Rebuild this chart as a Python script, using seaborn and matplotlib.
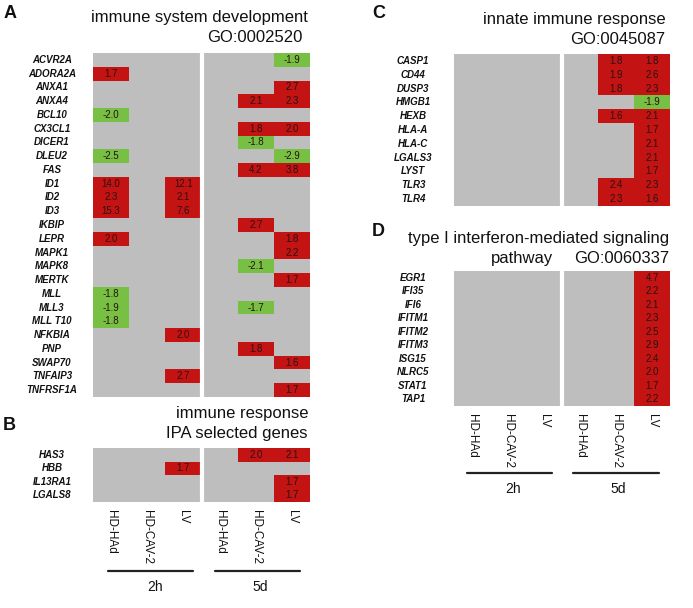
import numpy as np
import pandas as pd
import matplotlib
matplotlib.use("Agg")
import matplotlib.pyplot as plt
from matplotlib.colors import ListedColormap
from matplotlib.lines import Line2D
import seaborn as sns

sns.set_style("white")
plt.rcParams['font.family'] = ['Liberation Sans', 'DejaVu Sans']
plt.rcParams['text.color'] = '#111111'
plt.rcParams['xtick.color'] = '#111111'
plt.rcParams['ytick.color'] = '#111111'

conditions = ["HD-HAd", "HD-CAV-2", "LV", "HD-HAd", "HD-CAV-2", "LV"]
timepoints = ["2h", "5d"]
N = np.nan

genes_a = ["ACVR2A", "ADORA2A", "ANXA1", "ANXA4", "BCL10", "CX3CL1", "DICER1",
           "DLEU2", "FAS", "ID1", "ID2", "ID3", "IKBIP", "LEPR", "MAPK1", "MAPK8",
           "MERTK", "MLL", "MLL3", "MLL T10", "NFKBIA", "PNP", "SWAP70",
           "TNFAIP3", "TNFRSF1A"]
values_a = [
    [N, N, N, N, N, -1.9],
    [1.7, N, N, N, N, N],
    [N, N, N, N, N, 2.7],
    [N, N, N, N, 2.1, 2.3],
    [-2.0, N, N, N, N, N],
    [N, N, N, N, 1.8, 2.0],
    [N, N, N, N, -1.8, N],
    [-2.5, N, N, N, N, -2.9],
    [N, N, N, N, 4.2, 3.8],
    [14.0, N, 12.1, N, N, N],
    [2.3, N, 2.1, N, N, N],
    [15.3, N, 7.6, N, N, N],
    [N, N, N, N, 2.7, N],
    [2.0, N, N, N, N, 1.8],
    [N, N, N, N, N, 2.2],
    [N, N, N, N, -2.1, N],
    [N, N, N, N, N, 1.7],
    [-1.8, N, N, N, N, N],
    [-1.9, N, N, N, -1.7, N],
    [-1.8, N, N, N, N, N],
    [N, N, 2.0, N, N, N],
    [N, N, N, N, 1.8, N],
    [N, N, N, N, N, 1.6],
    [N, N, 2.7, N, N, N],
    [N, N, N, N, N, 1.7],
]

genes_b = ["HAS3", "HBB", "IL13RA1", "LGALS8"]
values_b = [
    [N, N, N, N, 2.0, 2.1],
    [N, N, 1.7, N, N, N],
    [N, N, N, N, N, 1.7],
    [N, N, N, N, N, 1.7],
]

genes_c = ["CASP1", "CD44", "DUSP3", "HMGB1", "HEXB", "HLA-A", "HLA-C",
           "LGALS3", "LYST", "TLR3", "TLR4"]
values_c = [
    [N, N, N, N, 1.8, 1.8],
    [N, N, N, N, 1.9, 2.6],
    [N, N, N, N, 1.8, 2.3],
    [N, N, N, N, N, -1.9],
    [N, N, N, N, 1.6, 2.1],
    [N, N, N, N, N, 1.7],
    [N, N, N, N, N, 2.1],
    [N, N, N, N, N, 2.1],
    [N, N, N, N, N, 1.7],
    [N, N, N, N, 2.4, 2.3],
    [N, N, N, N, 2.3, 1.6],
]

genes_d = ["EGR1", "IFI35", "IFI6", "IFITM1", "IFITM2", "IFITM3", "ISG15",
           "NLRC5", "STAT1", "TAP1"]
values_d = [
    [N, N, N, N, N, 4.7],
    [N, N, N, N, N, 2.2],
    [N, N, N, N, N, 2.1],
    [N, N, N, N, N, 2.3],
    [N, N, N, N, N, 2.5],
    [N, N, N, N, N, 2.9],
    [N, N, N, N, N, 2.4],
    [N, N, N, N, N, 2.0],
    [N, N, N, N, N, 1.7],
    [N, N, N, N, N, 2.2],
]

RED = "#C41313"
GREEN = "#77C044"
GREY = "#BEBEBE"
cmap = ListedColormap([GREEN, RED])

W, H = 693, 608
fig = plt.figure(figsize=(W / 100, H / 100), dpi=100)


def px_axes(l, t, r, b):
    return fig.add_axes([l / W, 1 - b / H, (r - l) / W, (b - t) / H])


def fx(x):
    return x / W


def fy(y):
    return 1 - y / H


def heat(ax, genes, vals, show_x):
    arr = np.array(vals, dtype=float)
    df = pd.DataFrame(arr, index=genes, columns=range(6))
    sign = np.sign(df)
    sns.heatmap(sign, ax=ax, cmap=cmap, vmin=-1, vmax=1, cbar=False,
                annot=df.values, fmt=".1f",
                annot_kws={"color": "#2a1010", "fontsize": 7})
    ax.set_facecolor(GREY)
    ax.axvline(3, color="white", lw=3)
    ax.set_yticks(np.arange(len(genes)) + 0.5)
    ax.set_yticklabels(genes, fontsize=7, fontweight="bold", fontstyle="italic",
                       rotation=0, ha="center")
    ax.tick_params(axis="y", length=0, pad=29.5)
    if show_x:
        ax.set_xticks(np.arange(6) + 0.5)
        ax.set_xticklabels(conditions, rotation=270, fontsize=8.5, va="top",
                           ha="center")
        ax.tick_params(axis="x", length=0, pad=6)
    else:
        ax.set_xticks([])
    ax.set_xlabel("")
    ax.set_ylabel("")
    for s in ax.spines.values():
        s.set_visible(False)


ax_a = px_axes(93, 53, 310, 397)
heat(ax_a, genes_a, values_a, False)
ax_b = px_axes(93, 448, 310, 502)
heat(ax_b, genes_b, values_b, True)
ax_c = px_axes(454, 54, 670, 206)
heat(ax_c, genes_c, values_c, False)
ax_d = px_axes(454, 271, 670, 406)
heat(ax_d, genes_d, values_d, True)

title_kw = dict(fontsize=12, ha="right", va="baseline")
fig.text(fx(308), fy(22), "immune system development", **title_kw)
fig.text(fx(303), fy(42), "GO:0002520", **title_kw)
fig.text(fx(308), fy(418), "immune response", **title_kw)
fig.text(fx(307), fy(438), "IPA selected genes", **title_kw)
fig.text(fx(666), fy(24), "innate immune response", **title_kw)
fig.text(fx(665), fy(44), "GO:0045087", **title_kw)
fig.text(fx(669), fy(243), "type I interferon-mediated signaling", **title_kw)
fig.text(fx(553), fy(263), "pathway", **title_kw)
fig.text(fx(669), fy(263), "GO:0060337", **title_kw)

letter_kw = dict(fontsize=13, fontweight="bold", ha="left", va="center")
fig.text(fx(4), fy(13), "A", **letter_kw)
fig.text(fx(3), fy(425), "B", **letter_kw)
fig.text(fx(372), fy(13), "C", **letter_kw)
fig.text(fx(372), fy(232), "D", **letter_kw)

# group bars and time labels
for (x0, x1, xc, y_line, y_lab, lab) in [
        (108, 193, 155, 571, 587, timepoints[0]),
        (215, 300, 260, 571, 587, timepoints[1]),
        (467, 552, 513, 473, 489, timepoints[0]),
        (573, 659, 618, 473, 489, timepoints[1])]:
    fig.add_artist(Line2D([fx(x0), fx(x1)], [fy(y_line), fy(y_line)],
                          transform=fig.transFigure, color="#222222", lw=1.6))
    fig.text(fx(xc), fy(y_lab), lab, fontsize=10, ha="center", va="center")

fig.savefig("out.png", dpi=100)
